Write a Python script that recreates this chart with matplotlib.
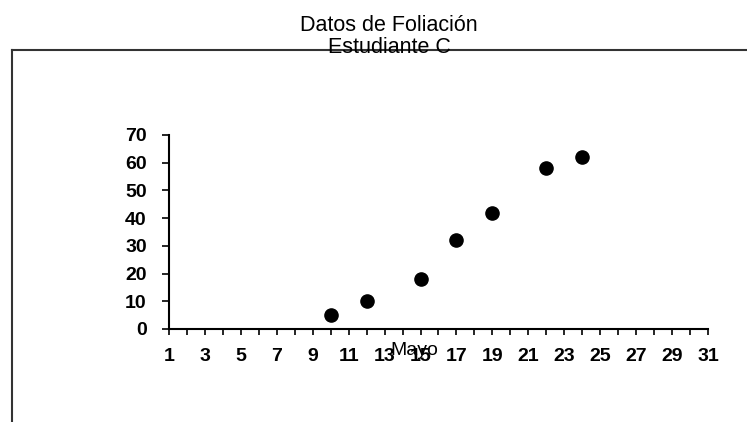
import matplotlib
matplotlib.use('Agg')

import matplotlib.pyplot as plt
from matplotlib.lines import Line2D

# Estudiante C - foliacion en mayo
dias = [10, 12, 15, 17, 19, 22, 24]
foliacion = [5, 10, 18, 32, 42, 58, 62]
x_ticks = list(range(1, 32))
x_labels = [str(d) if d % 2 == 1 else '' for d in x_ticks]
y_ticks = [0, 10, 20, 30, 40, 50, 60, 70]

plt.rcParams['font.family'] = ['Liberation Sans', 'DejaVu Sans']

fig = plt.figure(figsize=(7.47, 4.22), dpi=100)
ax = fig.add_axes([0.2262, 0.2204, 0.7216, 0.4597])

ax.scatter(dias, foliacion, s=90, color='black', zorder=3)

ax.set_xlim(1, 31)
ax.set_ylim(0, 70)
ax.set_xticks(x_ticks)
ax.set_xticklabels(x_labels)
ax.set_yticks(y_ticks)

tick_font = dict(family=['Liberation Sans Narrow', 'Liberation Sans', 'DejaVu Sans'],
                 weight='bold', size=14)
for lbl in ax.get_xticklabels() + ax.get_yticklabels():
    lbl.set_fontproperties(tick_font)

ax.tick_params(axis='x', direction='out', length=4, width=1.2, pad=10)
ax.tick_params(axis='y', direction='out', length=5, width=1.2, pad=11)

for side in ['top', 'right']:
    ax.spines[side].set_visible(False)
for side in ['left', 'bottom']:
    ax.spines[side].set_linewidth(1.5)

ax.set_xlabel('Mayo', fontsize=14)
ax.xaxis.set_label_coords(0.4545, -0.134)
ax.xaxis.label.set_va('baseline')

fig.text(0.521, 0.9265, 'Datos de Foliación', ha='center', va='baseline', fontsize=15.5)
fig.text(0.522, 0.8744, 'Estudiante C', ha='center', va='baseline', fontsize=15.5)

# marco del area del grafico
fig.add_artist(Line2D([0.016, 0.016], [0.8815, 0.0], color='#333333', lw=1.5))
fig.add_artist(Line2D([0.016, 1.0], [0.8815, 0.8815], color='#333333', lw=1.5))

fig.savefig('out.png', dpi=100)
